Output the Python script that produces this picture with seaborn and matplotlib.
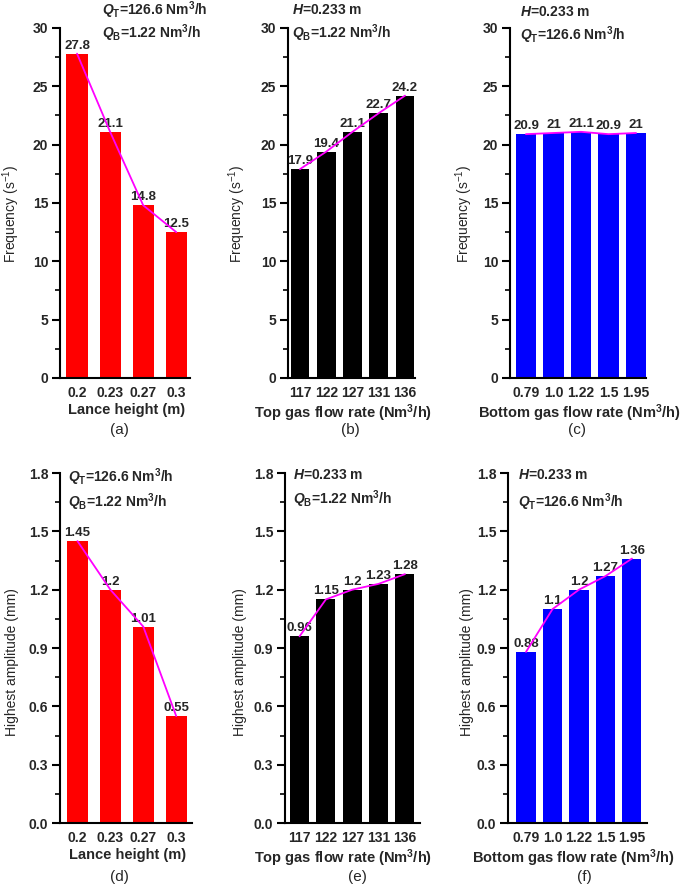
import numpy as np
import matplotlib
matplotlib.use("Agg")
import matplotlib.pyplot as plt
from matplotlib.ticker import MultipleLocator, FormatStrFormatter
import seaborn as sns

# ---------------- data ----------------
h_labels = ["0.2", "0.23", "0.27", "0.3"]
qt_labels = ["117", "122", "127", "131", "136"]
qb_labels = ["0.79", "1.0", "1.22", "1.5", "1.95"]

freq_h = [27.8, 21.1, 14.8, 12.5]
freq_qt = [17.9, 19.4, 21.1, 22.7, 24.2]
freq_qb = [20.9, 21.0, 21.1, 20.9, 21.0]

amp_h = [1.45, 1.2, 1.01, 0.55]
amp_qt = [0.96, 1.15, 1.2, 1.23, 1.28]
amp_qb = [0.88, 1.1, 1.2, 1.27, 1.36]

xlab_h = "Lance height (m)"
xlab_qt = "Top gas flow rate (Nm$^{3}$/h)"
xlab_qb = "Bottom gas flow rate (Nm$^{3}$/h)"
ylab_f = r"Frequency (s$^{\mathsf{-1}}$)"
ylab_a = "Highest amplitude (mm)"

txt_qt = r"$Q_{\mathrm{T}}$=126.6 Nm$^{3}$/h"
txt_qb = r"$Q_{\mathrm{B}}$=1.22 Nm$^{3}$/h"
txt_h = r"$H$=0.233 m"

# ---------------- style ----------------
sns.set_style("ticks")
plt.rcParams["font.family"] = ["Liberation Sans", "DejaVu Sans"]
plt.rcParams["mathtext.fontset"] = "custom"
plt.rcParams["mathtext.it"] = "Liberation Sans:italic:bold"
plt.rcParams["mathtext.rm"] = "Liberation Sans:bold"
plt.rcParams["mathtext.bf"] = "Liberation Sans:bold"
plt.rcParams["mathtext.sf"] = "Liberation Sans"

RED, BLACK, BLUE, MAG = "#FF0000", "#000000", "#0000FF", "#FF00FF"

fig = plt.figure(figsize=(6.85, 8.86), dpi=100)

panels = [
    dict(rect=[0.0876, 0.5734, 0.190, 0.395], cats=h_labels, vals=freq_h, color=RED,
         width=0.64, xlim=(-0.515, 3.42), xlabel=xlab_h, xlc=0.515, ylabel=ylab_f, ylc=(-0.29, 0.47),
         kind="f", texts=[(txt_qt, 0.32, 1.051), (txt_qb, 0.32, 0.986)], letter="(a)", lx=119, ly=430),
    dict(rect=[0.4204, 0.5734, 0.1854, 0.395], cats=qt_labels, vals=freq_qt, color=BLACK,
         width=0.72, xlim=(-0.457, 4.38), xlabel=xlab_qt, xlc=0.43, ylabel=ylab_f, ylc=(-0.315, 0.47),
         kind="f", texts=[(txt_h, 0.03, 1.051), (txt_qb, 0.03, 0.986)], letter="(b)", lx=350, ly=430),
    dict(rect=[0.7445, 0.5734, 0.1985, 0.395], cats=qb_labels, vals=freq_qb, color=BLUE,
         width=0.73, xlim=(-0.58, 4.36), xlabel=xlab_qb, xlc=0.51, ylabel=ylab_f, ylc=(-0.26, 0.47),
         kind="f", texts=[(txt_h, 0.074, 1.045), (txt_qt, 0.074, 0.98)], letter="(c)", lx=577, ly=430),
    dict(rect=[0.0876, 0.0711, 0.1927, 0.395], cats=h_labels, vals=amp_h, color=RED,
         width=0.64, xlim=(-0.53, 3.48), xlabel=xlab_h, xlc=0.51, ylabel=ylab_a, ylc=(-0.31, 0.46),
         kind="a", texts=[(txt_qt, 0.06, 0.989), (txt_qb, 0.06, 0.917)], letter="(d)", lx=119, ly=877),
    dict(rect=[0.4161, 0.0711, 0.197, 0.395], cats=qt_labels, vals=amp_qt, color=BLACK,
         width=0.72, xlim=(-0.55, 4.57), xlabel=xlab_qt, xlc=0.43, ylabel=ylab_a, ylc=(-0.283, 0.46),
         kind="a", texts=[(txt_h, 0.06, 0.994), (txt_qb, 0.06, 0.926)], letter="(e)", lx=357, ly=877),
    dict(rect=[0.7416, 0.0711, 0.203, 0.395], cats=qb_labels, vals=amp_qb, color=BLUE,
         width=0.72, xlim=(-0.68, 4.57), xlabel=xlab_qb, xlc=0.47, ylabel=ylab_a, ylc=(-0.247, 0.46),
         kind="a", texts=[(txt_h, 0.07, 0.994), (txt_qt, 0.07, 0.917)], letter="(f)", lx=584, ly=877),
]

for p in panels:
    ax = fig.add_axes(p["rect"])
    sns.barplot(x=p["cats"], y=p["vals"], color=p["color"], saturation=1,
                width=p["width"], linewidth=0, ax=ax)
    ax.plot(np.arange(len(p["vals"])), p["vals"], color=MAG, lw=1.3, zorder=5)
    ax.bar_label(ax.containers[0], labels=[f"{v:g}" for v in p["vals"]],
                 padding=1.5, fontsize=9.5, fontweight="bold")
    ax.set_xlim(*p["xlim"])
    if p["kind"] == "f":
        ax.set_ylim(0, 30)
        ax.yaxis.set_major_locator(MultipleLocator(5))
        ax.yaxis.set_minor_locator(MultipleLocator(2.5))
    else:
        ax.set_ylim(0, 1.8)
        ax.yaxis.set_major_locator(MultipleLocator(0.3))
        ax.yaxis.set_minor_locator(MultipleLocator(0.15))
        ax.yaxis.set_major_formatter(FormatStrFormatter("%.1f"))
    sns.despine(ax=ax)
    for s in ("left", "bottom"):
        ax.spines[s].set_linewidth(1.5)
        ax.spines[s].set_color("black")
    ax.tick_params(axis="y", which="major", direction="out", length=5.5, width=1.5,
                   pad=3, labelsize=10, color="black")
    ax.tick_params(axis="y", which="minor", direction="out", length=3.5, width=1.2, color="black")
    ax.tick_params(axis="x", length=0, pad=6, labelsize=10)
    for t in ax.get_xticklabels() + ax.get_yticklabels():
        t.set_fontweight("bold")
    ax.set_xlabel(p["xlabel"], fontsize=10.5, fontweight="bold", va="top")
    ax.xaxis.set_label_coords(p["xlc"], -0.071)
    ax.set_ylabel(p["ylabel"], fontsize=10)
    ax.yaxis.set_label_coords(*p["ylc"])
    for s, tx, ty in p["texts"]:
        ax.text(tx, ty, s, transform=ax.transAxes, fontsize=10, fontweight="bold",
                ha="left", va="center")
    fig.text(p["lx"] / 685, 1 - p["ly"] / 886, p["letter"], fontsize=11,
             ha="center", va="center")

fig.savefig("out.png", dpi=100)
